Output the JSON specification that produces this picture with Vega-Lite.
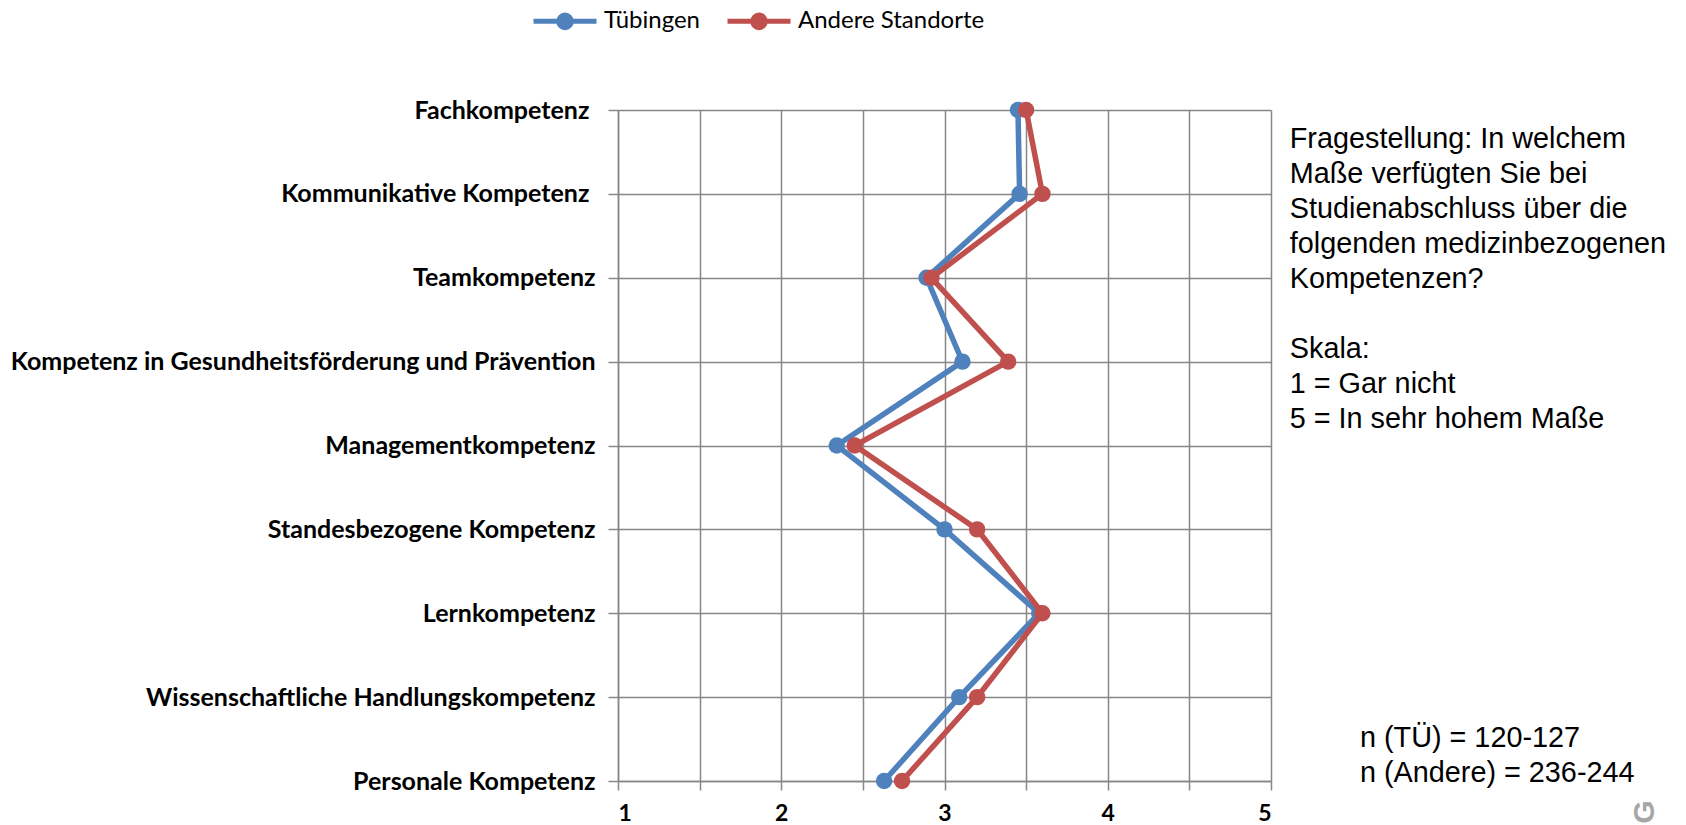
{
  "$schema": "https://vega.github.io/schema/vega-lite/v6.json",
  "autosize": {"type": "none"},
  "width": 653,
  "height": 671,
  "padding": {"left": 618, "top": 110, "right": 415, "bottom": 44},
  "background": "white",
  "config": {"view": {"stroke": null}},
  "datasets": {
    "main": [
      {"k": "Fachkompetenz \u200b", "g": "Tübingen", "v": 3.45},
      {"k": "Kommunikative Kompetenz \u200b", "g": "Tübingen", "v": 3.46},
      {"k": "Teamkompetenz", "g": "Tübingen", "v": 2.89},
      {"k": "Kompetenz in Gesundheitsförderung und Prävention", "g": "Tübingen", "v": 3.11},
      {"k": "Managementkompetenz", "g": "Tübingen", "v": 2.34},
      {"k": "Standesbezogene Kompetenz", "g": "Tübingen", "v": 3.0},
      {"k": "Lernkompetenz", "g": "Tübingen", "v": 3.58},
      {"k": "Wissenschaftliche Handlungskompetenz", "g": "Tübingen", "v": 3.09},
      {"k": "Personale Kompetenz", "g": "Tübingen", "v": 2.63},
      {"k": "Fachkompetenz \u200b", "g": "Andere Standorte", "v": 3.5},
      {"k": "Kommunikative Kompetenz \u200b", "g": "Andere Standorte", "v": 3.6},
      {"k": "Teamkompetenz", "g": "Andere Standorte", "v": 2.92},
      {"k": "Kompetenz in Gesundheitsförderung und Prävention", "g": "Andere Standorte", "v": 3.39},
      {"k": "Managementkompetenz", "g": "Andere Standorte", "v": 2.45},
      {"k": "Standesbezogene Kompetenz", "g": "Andere Standorte", "v": 3.2},
      {"k": "Lernkompetenz", "g": "Andere Standorte", "v": 3.6},
      {"k": "Wissenschaftliche Handlungskompetenz", "g": "Andere Standorte", "v": 3.2},
      {"k": "Personale Kompetenz", "g": "Andere Standorte", "v": 2.74}
    ],
    "notes": [
      {"k": "Fachkompetenz \u200b", "v": 5.115, "t": "Fragestellung: In welchem\nMaße verfügten Sie bei\nStudienabschluss über die\nfolgenden medizinbezogenen\nKompetenzen?\n\u200b\nSkala:\n1 = Gar nicht\n5 = In sehr hohem Maße"}
    ],
    "ns": [
      {"k": "Personale Kompetenz", "v": 5.545, "t": "n (TÜ) = 120-127\nn (Andere) = 236-244"}
    ],
    "logo": [
      {"k": "Personale Kompetenz", "v": 7.29, "t": "G"}
    ]
  },
  "encoding": {
    "y": {
      "field": "k", "type": "nominal",
      "scale": {"type": "point", "padding": 0, "domain": ["Fachkompetenz \u200b", "Kommunikative Kompetenz \u200b", "Teamkompetenz", "Kompetenz in Gesundheitsförderung und Prävention", "Managementkompetenz", "Standesbezogene Kompetenz", "Lernkompetenz", "Wissenschaftliche Handlungskompetenz", "Personale Kompetenz"]},
      "axis": {
        "title": null, "grid": true, "gridColor": "#878787", "gridWidth": 1.5,
        "domainColor": "#878787", "domainWidth": 1.5, "tickColor": "#878787", "tickWidth": 1.5, "tickSize": 10,
        "labelFont": "Lato", "labelFontWeight": "bold", "labelFontSize": 25, "labelColor": "#000000",
        "labelPadding": 13, "labelLimit": 800
      }
    },
    "x": {
      "field": "v", "type": "quantitative",
      "scale": {"domain": [1, 5], "nice": false, "zero": false},
      "axis": {
        "title": null, "values": [1, 1.5, 2, 2.5, 3, 3.5, 4, 4.5, 5],
        "labelExpr": "datum.value % 1 === 0 ? format(datum.value, 'd') : ''",
        "grid": true, "gridColor": "#878787", "gridWidth": 1.5,
        "domainColor": "#878787", "domainWidth": 1.5, "tickColor": "#878787", "tickWidth": 1.5, "tickSize": 9,
        "labelFont": "Lato", "labelFontWeight": "bold", "labelFontSize": 23, "labelColor": "#000000",
        "labelPadding": 12
      }
    }
  },
  "layer": [
    {
      "data": {"name": "main"},
      "transform": [{"filter": "datum.g === 'Tübingen'"}],
      "mark": {"type": "line", "strokeWidth": 5.5},
      "encoding": {
        "order": {"value": null},
        "color": {
          "field": "g", "type": "nominal",
          "scale": {"domain": ["Tübingen", "Andere Standorte"], "range": ["#4F81BD", "#C0504D"]},
          "legend": {
            "title": null, "orient": "none", "direction": "horizontal",
            "legendX": -87, "legendY": -123,
            "symbolType": "M-1,0H1M-0.2,0A0.2,0.2 0 1,0 0.2,0A0.2,0.2 0 1,0 -0.2,0Z",
            "symbolSize": 3969, "symbolStrokeWidth": 5,
            "labelFont": "Lato", "labelFontSize": 24, "labelColor": "#000000", "labelOffset": 5, "labelLimit": 500,
            "columnPadding": 17,
            "encode": {"symbols": {"update": {"fill": {"scale": "color", "field": "value"}, "stroke": {"scale": "color", "field": "value"}, "strokeWidth": {"value": 5}, "opacity": {"value": 1}}}}
          }
        }
      }
    },
    {
      "data": {"name": "main"},
      "transform": [{"filter": "datum.g === 'Tübingen'"}],
      "mark": {"type": "point", "filled": true, "opacity": 1, "size": 270, "shape": "circle"},
      "encoding": {"color": {"field": "g", "type": "nominal"}}
    },
    {
      "data": {"name": "main"},
      "transform": [{"filter": "datum.g === 'Andere Standorte'"}],
      "mark": {"type": "line", "strokeWidth": 5.5},
      "encoding": {"order": {"value": null}, "color": {"field": "g", "type": "nominal"}}
    },
    {
      "data": {"name": "main"},
      "transform": [{"filter": "datum.g === 'Andere Standorte'"}],
      "mark": {"type": "point", "filled": true, "opacity": 1, "size": 270, "shape": "circle"},
      "encoding": {"color": {"field": "g", "type": "nominal"}}
    },
    {
      "data": {"name": "notes"},
      "mark": {"type": "text", "align": "left", "baseline": "alphabetic", "font": "Liberation Sans", "fontSize": 28.8, "lineHeight": 35, "lineBreak": "\n", "color": "#000000", "dy": 38},
      "encoding": {"text": {"field": "t"}}
    },
    {
      "data": {"name": "ns"},
      "mark": {"type": "text", "align": "left", "baseline": "alphabetic", "font": "Liberation Sans", "fontSize": 28.8, "lineHeight": 35, "lineBreak": "\n", "color": "#000000", "dy": -34},
      "encoding": {"text": {"field": "t"}}
    },
    {
      "data": {"name": "logo"},
      "mark": {"type": "text", "align": "center", "baseline": "middle", "font": "Liberation Sans", "fontWeight": "bold", "fontSize": 30, "angle": 270, "color": "#a6a6a6", "dx": -31},
      "encoding": {"text": {"field": "t"}}
    }
  ]
}
